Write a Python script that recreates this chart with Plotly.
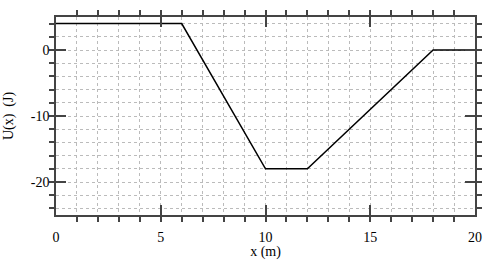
import plotly.graph_objects as go

x_vals = [0, 6, 10, 12, 18, 20]
u_vals = [4, 4, -18, -18, 0, 0]
x_ticks = [0, 5, 10, 15, 20]
x_ticktext = ["0", "5", "10", "15", "20"]
y_ticks = [0, -10, -20]
y_ticktext = ["0", "-10", "-20"]

fig = go.Figure()
fig.add_trace(go.Scatter(x=x_vals, y=u_vals, mode="lines",
                         line=dict(color="black", width=1.5), showlegend=False))

font = dict(family="'Liberation Serif', 'Times New Roman', Times, serif", size=14, color="black")
axcommon = dict(
    showline=True, linecolor="#444", linewidth=1.5, mirror="ticks",
    ticks="inside", ticklen=10, tickwidth=1.5, tickcolor="#444",
    showgrid=True, gridcolor="#bbbbbb", griddash="dot", gridwidth=1,
    zeroline=False, tickfont=font, automargin=False,
)
fig.update_xaxes(range=[0, 20], tickmode="array", tickvals=x_ticks, ticktext=x_ticktext,
                 minor=dict(dtick=1, tick0=0, ticklen=5, tickwidth=1.5, tickcolor="#444",
                            showgrid=True, gridcolor="#bbbbbb", griddash="dot", gridwidth=1),
                 ticklabelstandoff=8,
                 title=dict(text="x (m)", font=font, standoff=10), **axcommon)
fig.update_yaxes(range=[-25, 5], tickmode="array", tickvals=y_ticks, ticktext=y_ticktext,
                 minor=dict(dtick=2, tick0=0, ticklen=5, tickwidth=1.5, tickcolor="#444",
                            showgrid=True, gridcolor="#bbbbbb", griddash="dot", gridwidth=1),
                 ticklabelstandoff=2,
                 title=dict(text="U(x)  (J)", font=font, standoff=14), **axcommon)
fig.update_layout(width=494, height=260, margin=dict(l=56, r=19, t=17, b=45),
                  plot_bgcolor="white", paper_bgcolor="white", font=font)
fig.write_html("out.html")
